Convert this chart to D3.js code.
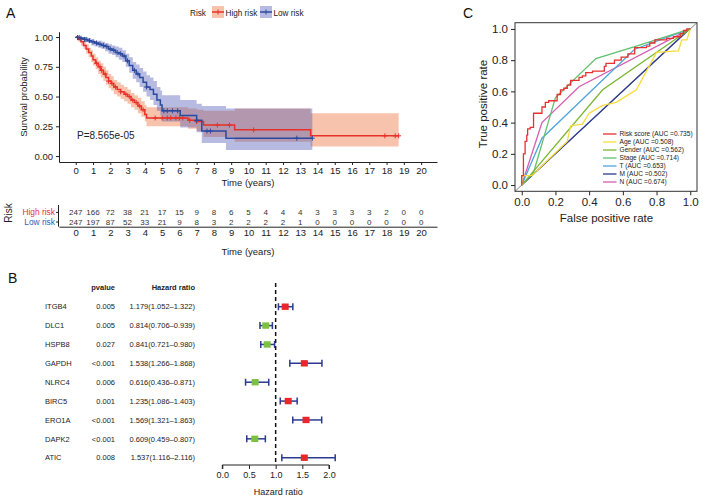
<!DOCTYPE html>
<html>
<head>
<meta charset="utf-8">
<script src="https://cdn.jsdelivr.net/npm/d3@7"></script>
<style>
  body { margin: 0; background: #fff; }
  text { font-family: "Liberation Sans", Arial, Helvetica, sans-serif; }
</style>
</head>
<body>
<svg id="fig" width="703" height="498"></svg>
<script>
//-----------------------------------------------------------------------
// data

// panel A : Kaplan-Meier, high risk
var highTime  = [0, 0.15, 0.3, 0.45, 0.6, 0.75, 0.9, 1.0, 1.15, 1.3, 1.45, 1.6, 1.75, 1.9, 2.05, 2.2, 2.4, 2.6, 2.8, 3.0, 3.2, 3.4, 3.6, 3.8, 4.0, 4.1, 6.5, 7.0, 7.4, 9.2, 13.6, 18.7];
var highSurv  = [1, 0.98, 0.96, 0.93, 0.90, 0.87, 0.84, 0.81, 0.78, 0.75, 0.72, 0.69, 0.66, 0.63, 0.61, 0.58, 0.56, 0.54, 0.52, 0.50, 0.47, 0.45, 0.42, 0.39, 0.35, 0.32, 0.30, 0.29, 0.26, 0.22, 0.17, 0.17];
var highLower = [1, 0.96, 0.93, 0.90, 0.86, 0.83, 0.79, 0.76, 0.73, 0.69, 0.66, 0.63, 0.60, 0.57, 0.55, 0.52, 0.50, 0.48, 0.46, 0.44, 0.41, 0.39, 0.36, 0.33, 0.29, 0.25, 0.23, 0.21, 0.16, 0.12, 0.08, 0.08];
var highUpper = [1, 1, 0.99, 0.97, 0.94, 0.91, 0.89, 0.86, 0.83, 0.80, 0.78, 0.75, 0.72, 0.69, 0.67, 0.64, 0.62, 0.60, 0.58, 0.56, 0.53, 0.51, 0.49, 0.46, 0.43, 0.41, 0.40, 0.39, 0.38, 0.40, 0.36, 0.36];
var highCensor = [1.2, 1.4, 1.5, 1.7, 1.9, 2.1, 2.3, 2.6, 2.9, 3.1, 3.3, 3.5, 3.7, 3.9, 4.6, 5.0, 5.3, 5.5, 5.8, 6.0, 6.2, 6.6, 7.0, 8.2, 8.9, 10.3, 17.9, 18.5, 18.7];

// panel A : Kaplan-Meier, low risk
var lowTime  = [0, 0.1, 0.3, 0.5, 0.7, 0.9, 1.1, 1.3, 1.5, 1.7, 1.9, 2.1, 2.3, 2.5, 2.7, 2.9, 3.1, 3.3, 3.5, 3.7, 3.9, 4.1, 4.3, 4.5, 4.7, 4.9, 5.0, 6.05, 7.0, 7.3, 8.7, 13.7];
var lowSurv  = [1, 0.996, 0.99, 0.98, 0.97, 0.96, 0.95, 0.94, 0.93, 0.92, 0.90, 0.89, 0.87, 0.86, 0.84, 0.80, 0.76, 0.72, 0.69, 0.66, 0.62, 0.58, 0.56, 0.52, 0.47, 0.43, 0.38, 0.34, 0.30, 0.21, 0.15, 0.15];
var lowLower = [1, 0.99, 0.98, 0.96, 0.95, 0.93, 0.92, 0.91, 0.90, 0.88, 0.86, 0.85, 0.83, 0.81, 0.79, 0.75, 0.70, 0.65, 0.62, 0.58, 0.54, 0.50, 0.47, 0.43, 0.38, 0.34, 0.29, 0.24, 0.20, 0.11, 0.05, 0.05];
var lowUpper = [1, 1, 1, 1, 0.99, 0.98, 0.97, 0.97, 0.96, 0.95, 0.94, 0.93, 0.92, 0.91, 0.89, 0.86, 0.83, 0.79, 0.77, 0.74, 0.71, 0.68, 0.66, 0.63, 0.58, 0.55, 0.51, 0.47, 0.44, 0.42, 0.40, 0.40];
var lowCensor = [0.1, 0.2, 0.3, 0.5, 0.6, 0.8, 1.0, 1.2, 1.4, 1.6, 1.8, 2.0, 2.2, 2.4, 2.6, 2.8, 3.0, 3.4, 3.6, 4.1, 5.1, 5.3, 5.6, 5.9, 7.0, 7.6, 7.8, 12.8, 13.7];

var pValueLabel = "P=8.565e-05";

// panel A : number at risk
var riskTimes = d3.range(0, 21);
var highAtRisk = [247, 166, 72, 38, 21, 17, 15, 9, 8, 6, 5, 4, 4, 4, 3, 3, 3, 3, 2, 0, 0];
var lowAtRisk  = [247, 197, 87, 52, 33, 21, 9, 8, 3, 2, 2, 2, 2, 1, 0, 0, 0, 0, 0, 0, 0];

// panel B : forest plot
var genes   = ["ITGB4", "DLC1", "HSPB8", "GAPDH", "NLRC4", "BIRC5", "ERO1A", "DAPK2", "ATIC"];
var pvalues = ["0.005", "0.005", "0.027", "<0.001", "0.006", "0.001", "<0.001", "<0.001", "0.008"];
var hr      = [1.179, 0.814, 0.841, 1.538, 0.616, 1.235, 1.569, 0.609, 1.537];
var hrLow   = [1.052, 0.706, 0.721, 1.266, 0.436, 1.086, 1.321, 0.459, 1.116];
var hrHigh  = [1.322, 0.939, 0.980, 1.868, 0.871, 1.403, 1.863, 0.807, 2.116];

// panel C : ROC curves (fpr, tpr)
var rocRisk   = [[0,0],[0,0.06],[0.01,0.06],[0.01,0.2],[0.02,0.28],[0.03,0.32],[0.035,0.36],[0.05,0.37],[0.07,0.46],[0.11,0.46],[0.12,0.5],[0.14,0.53],[0.16,0.54],[0.2,0.54],[0.21,0.58],[0.23,0.61],[0.25,0.62],[0.27,0.64],[0.29,0.67],[0.32,0.67],[0.34,0.69],[0.36,0.70],[0.38,0.72],[0.42,0.73],[0.48,0.73],[0.49,0.76],[0.5,0.78],[0.55,0.8],[0.59,0.82],[0.63,0.84],[0.66,0.84],[0.67,0.88],[0.74,0.89],[0.76,0.91],[0.79,0.93],[0.86,0.94],[0.9,0.95],[0.94,0.97],[0.96,0.99],[0.98,1],[1,1]];
var rocAge    = [[0,0],[0,0.06],[0.06,0.06],[0.27,0.28],[0.29,0.38],[0.36,0.39],[0.40,0.46],[0.48,0.51],[0.56,0.53],[0.62,0.57],[0.68,0.61],[0.80,0.85],[0.93,0.86],[0.95,0.93],[0.98,0.93],[1,1]];
var rocGender = [[0,0],[0.48,0.61],[1,1]];
var rocStage  = [[0,0],[0.07,0.08],[0.2,0.56],[0.44,0.81],[0.68,0.89],[1,1]];
var rocT      = [[0,0],[0.12,0.30],[0.67,0.87],[1,1]];
var rocM      = [[0,0],[0.98,0.985],[1,1]];
var rocN      = [[0,0],[0.12,0.40],[0.34,0.63],[1,1]];
var rocNames  = ["Risk score", "Age", "Gender", "Stage", "T", "M", "N"];
var rocAuc    = ["0.735", "0.508", "0.562", "0.714", "0.653", "0.502", "0.674"];

//-----------------------------------------------------------------------

var svg = d3.select("#fig");
svg.append("rect").attr("width", 703).attr("height", 498).attr("fill", "#fff");

var RED = "#e8302a", BLUE = "#2b4a9e";
var ink = "#222";

function styleAxis(g, size)
{
  g.selectAll("text").attr("font-size", size).attr("fill", ink);
  g.selectAll("line").attr("stroke", ink);
  g.select(".domain").attr("stroke", ink);
}

function panelLetter(x, y, s)
{
  svg.append("text").attr("x", x).attr("y", y).attr("font-size", 14).attr("fill", "#111").text(s);
}

//-----------------------------------------------------------------------
// panel A

panelLetter(6, 18, "A");

var kmX = d3.scaleLinear().domain([-0.97, 20.92]).range([59, 437]);
var kmY = d3.scaleLinear().domain([-0.05, 1.045]).range([162, 31.7]);

function toSteps(t, s, lo, up)
{
  return t.map(function (d, i) { return { t: d, s: s[i], lo: lo[i], up: up[i] }; });
}

function survAt(steps, t)
{
  var v = steps[0].s;
  for (var i = 0; i < steps.length; ++i) if (steps[i].t <= t) v = steps[i].s;
  return v;
}

var highSteps = toSteps(highTime, highSurv, highLower, highUpper);
var lowSteps  = toSteps(lowTime, lowSurv, lowLower, lowUpper);

var band = d3.area().curve(d3.curveStepAfter)
  .x(function (d) { return kmX(d.t); })
  .y0(function (d) { return kmY(d.lo); })
  .y1(function (d) { return kmY(d.up); });
var stepLine = d3.line().curve(d3.curveStepAfter)
  .x(function (d) { return kmX(d.t); })
  .y(function (d) { return kmY(d.s); });

svg.append("path").attr("d", band(highSteps)).attr("fill", "#ee7b48").attr("fill-opacity", 0.45);
svg.append("path").attr("d", band(lowSteps)).attr("fill", "#4a55b5").attr("fill-opacity", 0.4);

function drawCurve(steps, censor, color)
{
  svg.append("path").attr("d", stepLine(steps)).attr("fill", "none")
     .attr("stroke", color).attr("stroke-width", 1.5);
  var g = svg.append("g").attr("stroke", color).attr("stroke-width", 1);
  censor.forEach(function (t) {
    var x = kmX(t), y = kmY(survAt(steps, t));
    g.append("line").attr("x1", x - 2.5).attr("x2", x + 2.5).attr("y1", y).attr("y2", y);
    g.append("line").attr("x1", x).attr("x2", x).attr("y1", y - 2.5).attr("y2", y + 2.5);
  });
}
drawCurve(highSteps, highCensor, RED);
drawCurve(lowSteps, lowCensor, BLUE);

var kmYAxis = svg.append("g").attr("transform", "translate(59,0)")
  .call(d3.axisLeft(kmY).tickValues([0, 0.25, 0.5, 0.75, 1]).tickFormat(d3.format(".2f")).tickSize(3).tickSizeOuter(0));
styleAxis(kmYAxis, 9.5);
var kmXAxis = svg.append("g").attr("transform", "translate(0,162)")
  .call(d3.axisBottom(kmX).tickValues(riskTimes).tickSize(3).tickPadding(2).tickSizeOuter(0));
styleAxis(kmXAxis, 9.5);

svg.append("text").attr("transform", "translate(27,97) rotate(-90)").attr("text-anchor", "middle")
   .attr("font-size", 9.5).attr("fill", ink).text("Survival probability");
svg.append("text").attr("x", 248).attr("y", 185.5).attr("text-anchor", "middle")
   .attr("font-size", 9.5).attr("fill", ink).text("Time (years)");
svg.append("text").attr("x", 77).attr("y", 139).attr("font-size", 10).attr("fill", ink).text(pValueLabel);

// legend
svg.append("text").attr("x", 190).attr("y", 15.5).attr("font-size", 8.2).attr("fill", ink).text("Risk");
[["High risk", RED, "#ee7b48", 0.45, 212], ["Low risk", BLUE, "#4a55b5", 0.4, 260]].forEach(function (k) {
  var g = svg.append("g").attr("transform", "translate(" + k[4] + ",6)");
  g.append("rect").attr("width", 12).attr("height", 12).attr("fill", k[2]).attr("fill-opacity", k[3]);
  g.append("line").attr("x1", 0).attr("x2", 12).attr("y1", 6).attr("y2", 6).attr("stroke", k[1]).attr("stroke-width", 1.5);
  g.append("line").attr("x1", 6).attr("x2", 6).attr("y1", 3.5).attr("y2", 8.5).attr("stroke", k[1]);
  g.append("text").attr("x", 13.5).attr("y", 9.5).attr("font-size", 8.2).attr("fill", ink).text(k[0]);
});

// number at risk table
var tblY = d3.scalePoint().domain(["High risk", "Low risk"]).range([212.4, 222]);
var tblRows = [["High risk", highAtRisk, "#e8303a"], ["Low risk", lowAtRisk, "#2f5fb3"]];
tblRows.forEach(function (r) {
  svg.append("text").attr("x", 55).attr("y", tblY(r[0]) + 3).attr("text-anchor", "end")
     .attr("font-size", 8.4).attr("fill", r[2]).text(r[0]);
  svg.append("line").attr("x1", 56).attr("x2", 58.5).attr("y1", tblY(r[0])).attr("y2", tblY(r[0])).attr("stroke", ink);
  svg.selectAll(null).data(r[1]).enter().append("text")
     .attr("x", function (d, i) { return kmX(riskTimes[i]); })
     .attr("y", tblY(r[0]) + 2.8)
     .attr("text-anchor", "middle").attr("font-size", 8).attr("fill", "#333")
     .text(function (d) { return d; });
});
svg.append("line").attr("x1", 58.5).attr("x2", 58.5).attr("y1", 205).attr("y2", 226.7).attr("stroke", ink);
var tblAxis = svg.append("g").attr("transform", "translate(0,226.7)")
  .call(d3.axisBottom(kmX).tickValues(riskTimes).tickSize(0).tickPadding(3).tickSizeOuter(0));
styleAxis(tblAxis, 9.5);
svg.append("text").attr("transform", "translate(12,213) rotate(-90)").attr("text-anchor", "middle")
   .attr("font-size", 10).attr("fill", ink).text("Risk");
svg.append("text").attr("x", 248).attr("y", 255).attr("text-anchor", "middle")
   .attr("font-size", 9.5).attr("fill", ink).text("Time (years)");

//-----------------------------------------------------------------------
// panel B

panelLetter(8, 283, "B");

var fY = d3.scalePoint().domain(genes).range([306.7, 457.7]);
var fX = d3.scaleLinear().domain([0, 2]).range([222.3, 329]);

svg.append("text").attr("x", 115).attr("y", 290).attr("text-anchor", "end")
   .attr("font-size", 7.5).attr("font-weight", "bold").attr("fill", ink).text("pvalue");
svg.append("text").attr("x", 195).attr("y", 290).attr("text-anchor", "end")
   .attr("font-size", 7.5).attr("font-weight", "bold").attr("fill", ink).text("Hazard ratio");

genes.forEach(function (g, i) {
  var y = fY(g) + 2.7;
  svg.append("text").attr("x", 45).attr("y", y).attr("font-size", 7.5).attr("fill", ink).text(g);
  svg.append("text").attr("x", 115).attr("y", y).attr("text-anchor", "end")
     .attr("font-size", 7.5).attr("fill", ink).text(pvalues[i]);
  svg.append("text").attr("x", 195).attr("y", y).attr("text-anchor", "end")
     .attr("font-size", 7.5).attr("fill", ink)
     .text(hr[i].toFixed(3) + "(" + hrLow[i].toFixed(3) + "\u2013" + hrHigh[i].toFixed(3) + ")");
});

svg.append("line").attr("x1", fX(1)).attr("x2", fX(1)).attr("y1", 283).attr("y2", 465)
   .attr("stroke", "#111").attr("stroke-width", 1.5).attr("stroke-dasharray", "4,3");

var bars = svg.append("g").attr("stroke", "#2b3990").attr("stroke-width", 1.5);
genes.forEach(function (g, i) {
  var y = fY(g);
  bars.append("line").attr("x1", fX(hrLow[i])).attr("x2", fX(hrHigh[i])).attr("y1", y).attr("y2", y);
  bars.append("line").attr("x1", fX(hrLow[i])).attr("x2", fX(hrLow[i])).attr("y1", y - 3.5).attr("y2", y + 3.5);
  bars.append("line").attr("x1", fX(hrHigh[i])).attr("x2", fX(hrHigh[i])).attr("y1", y - 3.5).attr("y2", y + 3.5);
});
svg.selectAll(null).data(genes).enter().append("rect")
   .attr("x", function (d, i) { return fX(hr[i]) - 3.5; })
   .attr("y", function (d) { return fY(d) - 3.2; })
   .attr("width", 7).attr("height", 6.4)
   .attr("fill", function (d, i) { return hr[i] > 1 ? "#e8262b" : "#7dc142"; });

var fAxis = svg.append("g").attr("transform", "translate(0,465)")
  .call(d3.axisBottom(fX).tickValues([0, 0.5, 1, 1.5, 2]).tickFormat(d3.format(".1f")).tickSize(4).tickSizeOuter(0));
styleAxis(fAxis, 9);
fAxis.select(".domain").attr("d", "M" + fX(0) + ",4V0H" + fX(2) + "V4");
svg.append("text").attr("x", fX(1.05)).attr("y", 495).attr("text-anchor", "middle")
   .attr("font-size", 9).attr("fill", ink).text("Hazard ratio");

//-----------------------------------------------------------------------
// panel C

panelLetter(463, 18, "C");

var rX = d3.scaleLinear().domain([-0.04, 1.04]).range([515, 697]);
var rY = d3.scaleLinear().domain([-0.04, 1.04]).range([191.3, 22.7]);

svg.append("line").attr("x1", rX(-0.04)).attr("y1", rY(-0.04)).attr("x2", rX(1.04)).attr("y2", rY(1.04))
   .attr("stroke", "#888").attr("stroke-width", 1);

var rocSeries = [rocRisk, rocAge, rocGender, rocStage, rocT, rocM, rocN];
var rocColors = ["#e8312f", "#f7dc3c", "#7ab630", "#62c072", "#4ea6da", "#2b3a8e", "#d65db1"];
var rocLine = d3.line().x(function (d) { return rX(d[0]); }).y(function (d) { return rY(d[1]); });

for (var k = rocSeries.length - 1; k >= 0; --k)
{
  svg.append("path")
     .attr("d", (k == 0 ? rocLine.curve(d3.curveStepAfter) : rocLine.curve(d3.curveLinear))(rocSeries[k]))
     .attr("fill", "none").attr("stroke", rocColors[k]).attr("stroke-width", 1.3);
}

svg.append("rect").attr("x", rX(-0.04)).attr("y", rY(1.04))
   .attr("width", rX(1.04) - rX(-0.04)).attr("height", rY(-0.04) - rY(1.04))
   .attr("fill", "none").attr("stroke", "#333");

var rXAxis = svg.append("g").attr("transform", "translate(0," + rY(-0.04) + ")")
  .call(d3.axisBottom(rX).tickValues([0, 0.2, 0.4, 0.6, 0.8, 1]).tickFormat(d3.format(".1f")).tickSize(4));
rXAxis.select(".domain").remove();
styleAxis(rXAxis, 11.5);
var rYAxis = svg.append("g").attr("transform", "translate(" + rX(-0.04) + ",0)")
  .call(d3.axisLeft(rY).tickValues([0, 0.2, 0.4, 0.6, 0.8, 1]).tickFormat(d3.format(".1f")).tickSize(4));
rYAxis.select(".domain").remove();
styleAxis(rYAxis, 11.5);

svg.append("text").attr("transform", "translate(487,104) rotate(-90)").attr("text-anchor", "middle")
   .attr("font-size", 11.5).attr("fill", ink).text("True positive rate");
svg.append("text").attr("x", 606.5).attr("y", 222).attr("text-anchor", "middle")
   .attr("font-size", 11.5).attr("fill", ink).text("False positive rate");

// legend
rocNames.forEach(function (n, i) {
  var y = 134 + i * 8;
  svg.append("line").attr("x1", 603).attr("x2", 616.5).attr("y1", y).attr("y2", y)
     .attr("stroke", rocColors[i]).attr("stroke-width", 1.3);
  svg.append("text").attr("x", 619.5).attr("y", y + 2.3).attr("font-size", 6.6).attr("fill", ink)
     .text(n + " (AUC =" + rocAuc[i] + ")");
});
</script>
</body>
</html>
